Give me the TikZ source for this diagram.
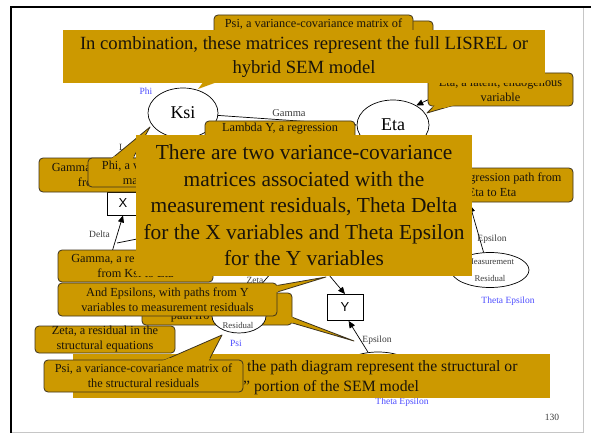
\documentclass[tikz,border=0pt]{standalone}
\usepackage{fontspec}
\setmainfont{Liberation Serif}
\newfontfamily\arialfont{Liberation Sans}
\usetikzlibrary{arrows.meta,calc,shapes.geometric}
\definecolor{gold}{RGB}{204,153,0}
\definecolor{ink}{RGB}{26,20,10}
\definecolor{edge}{RGB}{60,50,30}
\definecolor{labelblue}{RGB}{77,77,255}
\definecolor{labelgray}{RGB}{60,60,60}
\tikzset{
  bubble/.style={fill=gold, draw=edge, line width=0.8pt, rounded corners=4pt, inner sep=0pt,
    align=center, text=ink, font=\fontsize{12.3}{15}\selectfont},
  bigbox/.style={fill=gold, inner sep=0pt, align=center, text=ink},
  tailshape/.style={fill=gold, draw=edge, line width=0.8pt, line join=round},
  latent/.style={ellipse, draw=black, line width=0.7pt, fill=white, inner sep=0pt,
    font=\fontsize{18}{20}\selectfont},
  resid/.style={ellipse, draw=black, line width=0.7pt, fill=white, inner sep=0pt,
    align=center, text=labelgray, font=\fontsize{8.8}{16.5}\selectfont},
  obs/.style={rectangle, draw=black, line width=0.8pt, fill=white, inner sep=0pt,
    font=\arialfont\fontsize{13}{15}\selectfont},
  link/.style={draw=black, line width=0.7pt, -{Triangle[length=7pt,width=6pt]}},
  plainlink/.style={draw=black, line width=0.7pt},
  lbl/.style={text=labelgray, font=\fontsize{9.5}{11}\selectfont, inner sep=0pt},
  bluelbl/.style={text=labelblue, font=\fontsize{9.5}{11}\selectfont, inner sep=0pt},
}
% pointer of a callout: outlined wedge, and a patch that hides the box border at its base
\newcommand\tailout[3]{\path[tailshape] (#1) -- (#2) -- (#3) -- cycle;}
\newcommand\tailpatch[4]{\begin{scope}
  \clip ([shift={(-0.8pt,0.8pt)}]#1.north west) rectangle ([shift={(0.8pt,-0.8pt)}]#1.south east);
  \fill[gold] (#2) -- (#3) -- (#4) -- cycle;\end{scope}}
\begin{document}
\begin{tikzpicture}[x=1pt,y=-1pt]
\useasboundingbox (0,0) rectangle (591,433);
\fill[white] (0,0) rectangle (591,433);
% slide frame
\draw[gray!45, line width=0.6pt] (583,8) -- (583,432) -- (12,432);
\draw[black, line width=2.2pt] (11.1,433) -- (11.1,7.1) -- (591,7.1);

% path diagram
\node[latent, minimum width=70pt, minimum height=50pt] (ksi) at (183,113) {Ksi};
\node[latent, minimum width=72pt, minimum height=50pt] (eta) at (393,125) {Eta};
\node[obs, minimum width=32pt, minimum height=23pt] (x) at (123,203.5) {X};
\node[obs, minimum width=36pt, minimum height=26pt] (y) at (345,307.5) {Y};
\node[resid, minimum width=78pt, minimum height=35pt] (mres) at (490,270) {Measurement\\Residual};
\node[resid, minimum width=76pt, minimum height=38pt] (lres) at (378,371) {};

\coordinate (ytop) at (303,244);
\coordinate (dres) at (112,252);
\coordinate (d1) at (117,243);
\coordinate (d2) at (142,238);
\coordinate (yhid) at (470,205);
\coordinate (betastart) at (446,91);

\draw[link] (ksi) -- (eta.west);
\draw[link] (ksi) -- (x.north);
\draw[link] (ytop) -- (y.north);
\draw[link] (lres.118) -- (y.-75);
\draw[link] (dres) -- (x.south);
\draw[plainlink] (d1) -- (d2);
\draw[link] (mres.110) -- (yhid);
\draw[link] (betastart) -- (eta.40);

\node[bluelbl] (philbl) at (146,91) {Phi};
\node[lbl, font=\fontsize{10.5}{12}\selectfont] (gammalbl) at (289,113) {Gamma};
\node[lbl, anchor=west] (lxlbl) at (119,147) {L\phantom{ambda X}};
\node[lbl] (deltalbl) at (99.5,234) {Delta};
\node[lbl] (epslblA) at (492,239) {Epsilon};
\node[lbl] (epslblB) at (377,340) {Epsilon};
\node[bluelbl] (thetaA) at (508,301) {Theta Epsilon};
\node[bluelbl] (thetaB) at (402,402) {Theta Epsilon};
\node[lbl] (pagenum) at (552,417) {130};

% callouts
\node[bubble, minimum width=183pt, minimum height=31pt] (backbox) at (341.5,36.5) {};
\node[bubble, minimum width=199pt, minimum height=32pt] (psitop) at (313.5,31)
  {Psi, a variance-covariance matrix of\\\phantom{the structural residuals}};

\tailout{436,104}{458,104}{427,113}
\node[bubble, minimum width=145pt, minimum height=33pt] (etanote) at (500.5,89.5)
  {Eta, a latent, endogenous\\variable};
\tailpatch{etanote}{436,104}{458,104}{427,113}

\fill[gold] (204,81) -- (220,81) -- (198,89) -- cycle;
\node[bigbox, minimum width=482pt, minimum height=53pt, font=\fontsize{18.65}{24}\selectfont] (combo) at (304,56.5)
  {In combination, these matrices represent the full LISREL or\\hybrid SEM model};

\node[bubble, minimum width=150pt, minimum height=31pt] (lambdaY) at (280,136.5)
  {Lambda Y, a regression\\\phantom{path from Eta to Y}};
\node[bubble, minimum width=154pt, minimum height=34pt] (gammaA) at (116,175)
  {Gamma\phantom{, a regression path}\\fro\phantom{m Ksi to Eta}};

\tailout{110,160}{132,160}{150,127}
\node[bubble, minimum width=158pt, minimum height=29pt] (phinote) at (167,172.5)
  {Phi, a v\phantom{ariance-covariance}\\ma\phantom{trix of the Ksis}};
\tailpatch{phinote}{110,160}{132,160}{150,127}

\node[bubble, minimum width=162pt, minimum height=34pt] (betanote) at (492,185)
  {\phantom{Beta, a re}gression path from\\Eta to Eta};
\node[bubble, minimum width=155pt, minimum height=32pt] (gammaB) at (135.5,266)
  {Gamma, a re\phantom{gression path}\\from Ksi to Eta};

\tailout{289,316}{289,322}{354,341}
\node[bubble, minimum width=150pt, minimum height=32pt] (lambdaYB) at (217,309)
  {\phantom{Lambda Y, a regression}\\path fro\phantom{m Eta to Y}};
\tailpatch{lambdaYB}{289,316}{289,322}{354,341}

\node[resid, minimum width=54pt, minimum height=34pt] (sres) at (239,316) {};
\node[lbl, font=\fontsize{8.8}{10}\selectfont] (sresname) at (238,325) {Residual};
\node[bluelbl] (psilbl) at (236,343) {Psi};
\draw[link] (sres.60) -- (eta.235);
\node[lbl] (zetalbl) at (255,280) {Zeta};

\node[bigbox, minimum width=336pt, minimum height=141pt, font=\fontsize{21.4}{26.5}\selectfont] (twomat) at (304,205.5)
  {There are two variance-covariance\\matrices associated with the\\measurement residuals, Theta Delta\\for the X variables and Theta Epsilon\\for the Y variables};

\tailout{274,286}{274,293}{326,277}
\node[bubble, minimum width=219pt, minimum height=33pt] (epsnote) at (167.5,299.5)
  {And Epsilons, with paths from Y\\variables to measurement residuals};
\tailpatch{epsnote}{274,286}{274,293}{326,277}

\node[bubble, minimum width=140pt, minimum height=27pt] (zetanote) at (105,339.5)
  {Zeta, a residual in the\\structural equations};

\node[bigbox, minimum width=477pt, minimum height=44pt] (summary) at (311.5,376) {};
\node[anchor=base west, text=ink, inner sep=0pt, font=\fontsize{15.7}{20}\selectfont] (sumA) at (247,371.5)
  {the path diagram represent the structural or};
\node[anchor=base west, text=ink, inner sep=0pt, font=\fontsize{15.7}{20}\selectfont] (sumB) at (243,391.5)
  {” portion of the SEM model};

\tailout{160,362}{208,362}{222,335}
\node[bubble, minimum width=199pt, minimum height=32pt] (psinote) at (143.5,376)
  {Psi, a variance-covariance matrix of\\the structural residuals};
\tailpatch{psinote}{160,362}{208,362}{222,335}
\end{tikzpicture}
\end{document}
